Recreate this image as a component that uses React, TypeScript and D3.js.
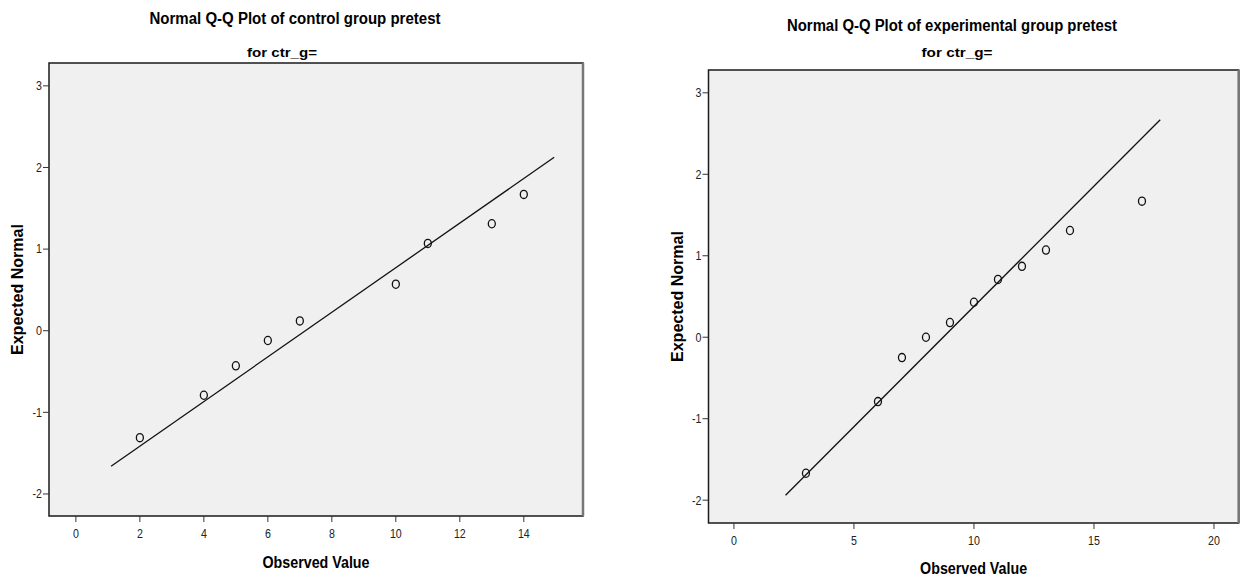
import React from 'react';
import * as d3 from 'd3';

// control group pretest
const ctrlObserved = [2, 4, 5, 6, 7, 10, 11, 13, 14];
const ctrlExpected = [-1.31, -0.79, -0.43, -0.12, 0.12, 0.57, 1.07, 1.31, 1.67];
const ctrlLine = [[1.1, -1.66], [14.95, 2.125]];
const ctrlXTicks = [0, 2, 4, 6, 8, 10, 12, 14];

// experimental group pretest
const expObserved = [3, 6, 7, 8, 9, 10, 11, 12, 13, 14, 17];
const expExpected = [-1.67, -0.79, -0.25, 0, 0.18, 0.43, 0.71, 0.87, 1.07, 1.31, 1.67];
const expLine = [[2.15, -1.94], [17.76, 2.67]];
const expXTicks = [0, 5, 10, 15, 20];

const yTicks = [-2, -1, 0, 1, 2, 3];

const font = "'Liberation Sans', Arial, sans-serif";

function QQPanel(props) {
  const { box, xDomain, yDomain, xTicks, xs, ys, line, title, titlePos, sub, subPos } = props;
  const x = d3.scaleLinear().domain(xDomain).range([box.left, box.right]);
  const y = d3.scaleLinear().domain(yDomain).range([box.bottom, box.top]);
  const lineGen = d3.line().x((d) => x(d[0])).y((d) => y(d[1]));
  const midX = (box.left + box.right) / 2;
  const midY = (box.top + box.bottom) / 2;

  return (
    <g>
      <text x={titlePos[0]} y={titlePos[1]} textAnchor="middle" dominantBaseline="central"
        fontFamily={font} fontWeight="bold" fontSize={16} textLength={titlePos[2]} lengthAdjust="spacingAndGlyphs">
        {title}
      </text>
      <text x={subPos[0]} y={subPos[1]} textAnchor="middle" dominantBaseline="central"
        fontFamily={font} fontWeight="bold" fontSize={13} textLength={subPos[2]} lengthAdjust="spacingAndGlyphs">
        {sub}
      </text>

      <rect x={box.left} y={box.top} width={box.right - box.left} height={box.bottom - box.top}
        fill="#f0f0f0" stroke="#1a1a1a" strokeWidth={1.5} />
      <line x1={box.right} x2={box.right} y1={box.top} y2={box.bottom} stroke="#777" strokeWidth={2.5} />

      {yTicks.map((t) => (
        <g key={'y' + t}>
          <line x1={box.left - 6} x2={box.left} y1={y(t)} y2={y(t)} stroke="#333" strokeWidth={1} />
          <text transform={`translate(${box.left - 7},${y(t)}) scale(0.82,1)`} textAnchor="end" dominantBaseline="central"
            fontFamily={font} fontSize={13} fill="#222">{t}</text>
        </g>
      ))}
      {xTicks.map((t) => (
        <g key={'x' + t}>
          <line x1={x(t)} x2={x(t)} y1={box.bottom} y2={box.bottom + 6} stroke="#333" strokeWidth={1} />
          <text transform={`translate(${x(t)},${box.bottom + 18}) scale(0.82,1)`} textAnchor="middle" dominantBaseline="central"
            fontFamily={font} fontSize={13} fill="#222">{t}</text>
        </g>
      ))}

      <text x={midX} y={box.bottom + props.xLabelOff} textAnchor="middle" dominantBaseline="central"
        fontFamily={font} fontWeight="bold" fontSize={16} textLength={107} lengthAdjust="spacingAndGlyphs">
        Observed Value
      </text>
      <text transform={`translate(${box.left - 31.5},${midY}) rotate(-90)`} textAnchor="middle" dominantBaseline="central"
        fontFamily={font} fontWeight="bold" fontSize={16} textLength={131} lengthAdjust="spacingAndGlyphs">
        Expected Normal
      </text>

      <path d={lineGen(line)} fill="none" stroke="#111" strokeWidth={1.3} />
      {xs.map((v, i) => (
        <ellipse key={'p' + i} cx={x(v)} cy={y(ys[i])} rx={3.5} ry={4.1}
          fill="none" stroke="#111" strokeWidth={1.3} />
      ))}
    </g>
  );
}

export default function App() {
  return (
    <svg width={1244} height={579} style={{ position: 'absolute', left: 0, top: 0, background: '#fff' }}>
      <QQPanel
        box={{ left: 49, right: 583, top: 63, bottom: 516 }}
        xDomain={[-0.84, 15.85]}
        yDomain={[-2.27, 3.28]}
        xTicks={ctrlXTicks}
        xs={ctrlObserved}
        ys={ctrlExpected}
        line={ctrlLine}
        title="Normal Q-Q Plot of control group pretest"
        titlePos={[295, 18, 291]}
        sub="for ctr_g="
        subPos={[282, 52, 70]}
        xLabelOff={46}
      />
      <QQPanel
        box={{ left: 708.5, right: 1238.7, top: 70, bottom: 523 }}
        xDomain={[-1.06, 21.03]}
        yDomain={[-2.28, 3.28]}
        xTicks={expXTicks}
        xs={expObserved}
        ys={expExpected}
        line={expLine}
        title="Normal Q-Q Plot of experimental group pretest"
        titlePos={[952, 25, 330]}
        sub="for ctr_g="
        subPos={[957, 52, 71]}
        xLabelOff={45}
      />
    </svg>
  );
}
